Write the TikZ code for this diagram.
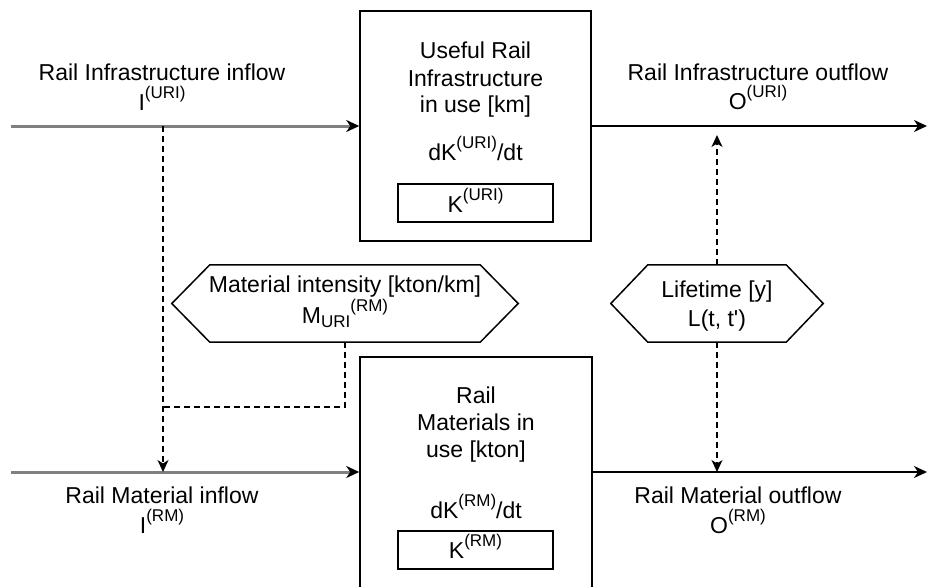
\documentclass[tikz,border=0pt]{standalone}
\usepackage{fontspec}
\setmainfont{Liberation Sans}
\usetikzlibrary{arrows.meta}

% raised / lowered small text for stock and flow symbols
\newcommand\supx[1]{\raisebox{11.5pt}{\fontsize{17}{17}\selectfont #1}}
\newcommand\subx[1]{\raisebox{-4pt}{\fontsize{17}{17}\selectfont #1}}

\begin{document}
\begin{tikzpicture}[x=1pt,y=-1pt,
  txt/.style={font=\fontsize{23}{26}\selectfont, inner sep=0pt, anchor=base, text=black},
  box/.style={draw=black, line width=1.5pt, inner sep=0pt},
  hexarea/.style={inner sep=0pt},
  hexline/.style={draw=black, line width=1.5pt, line join=miter},
  flow/.style={draw=black!50, line width=3pt,
    -{Stealth[color=black, length=13pt, width=12pt, inset=4pt]}},
  outflow/.style={draw=black, line width=1.5pt,
    -{Stealth[length=13pt, width=12pt, inset=4pt]}},
  link/.style={draw=black, line width=1.3pt, dash pattern=on 6pt off 4pt},
  linkarrow/.style={link, -{Stealth[length=12pt, width=11pt, inset=3.5pt]}},
]
\useasboundingbox (0,0) rectangle (928,586);
\clip (0,0) rectangle (928,586);

% ---- stocks ----
\node[box, minimum width=231pt, minimum height=230pt] (uri) at (475.5,126) {};
\node[box, minimum width=155pt, minimum height=38pt] (kuri) at (475.5,203) {};
\node[box, minimum width=232pt, minimum height=273pt] (rm) at (476,493.5) {};
\node[box, minimum width=155pt, minimum height=38pt] (krm) at (475.5,550) {};

% ---- parameter hexagons ----
\node[hexarea, minimum width=346pt, minimum height=77pt] (mi) at (345,303.5) {};
\draw[hexline] (mi.west) -- ([xshift=38pt]mi.north west) -- ([xshift=-38pt]mi.north east)
  -- (mi.east) -- ([xshift=-38pt]mi.south east) -- ([xshift=38pt]mi.south west) -- cycle;
\node[hexarea, minimum width=212pt, minimum height=77pt] (lt) at (717,303.5) {};
\draw[hexline] (lt.west) -- ([xshift=37pt]lt.north west) -- ([xshift=-37pt]lt.north east)
  -- (lt.east) -- ([xshift=-37pt]lt.south east) -- ([xshift=37pt]lt.south west) -- cycle;

% ---- flow end points ----
\coordinate (inA) at (11,126);
\coordinate (outA) at (927,126);
\coordinate (inB) at (11,472);
\coordinate (outB) at (927,472);
\coordinate (jA) at (163,126);
\coordinate (jB) at (163,472);
\coordinate (jC) at (163,407);
\coordinate (ltU) at (717,135);

% ---- flows ----
\draw[flow] (inA) -- (uri.west);
\draw[outflow] (uri.east) -- (outA);
\draw[flow] (inB) -- (inB -| rm.west);
\draw[outflow] (rm.east |- inB) -- (outB);

% ---- information links ----
\draw[linkarrow] (jA) -- (jB);
\draw[link] (mi.south) |- (jC);
\draw[linkarrow] (lt.north) -- (ltU);
\draw[linkarrow] (lt.south) -- (lt.south |- inB);

% ---- labels: infrastructure layer ----
\node[txt] (l1) at (162,81) {Rail Infrastructure inflow};
\node[txt] (l2) at (162,110) {I\supx{(URI)}};
\node[txt] (l3) at (475.5,59) {Useful Rail};
\node[txt] (l4) at (475.5,86) {Infrastructure};
\node[txt] (l5) at (475.5,112) {in use [km]};
\node[txt] (l6) at (475.5,160) {dK\supx{(URI)}/dt};
\node[txt] (l7) at (475.5,212) {K\supx{(URI)}};
\node[txt] (l8) at (758,80) {Rail Infrastructure outflow};
\node[txt] (l9) at (758,109) {O\supx{(URI)}};

% ---- labels: parameters ----
\node[txt] (m1) at (345,292) {Material intensity [kton/km]};
\node[txt] (m2) at (345,323) {M\subx{URI}\supx{(RM)}};
\node[txt] (t1) at (717,297) {Lifetime [y]};
\node[txt] (t2) at (717,326) {L(t, t\textquotesingle)};

% ---- labels: material layer ----
\node[txt] (b1) at (162,503) {Rail Material inflow};
\node[txt] (b2) at (162,533) {I\supx{(RM)}};
\node[txt] (b3) at (476,403) {Rail};
\node[txt] (b4) at (476,430) {Materials in};
\node[txt] (b5) at (476,457) {use [kton]};
\node[txt] (b6) at (476,518) {dK\supx{(RM)}/dt};
\node[txt] (b7) at (475.5,558) {K\supx{(RM)}};
\node[txt] (b8) at (738,503) {Rail Material outflow};
\node[txt] (b9) at (738,533) {O\supx{(RM)}};
\end{tikzpicture}
\end{document}
